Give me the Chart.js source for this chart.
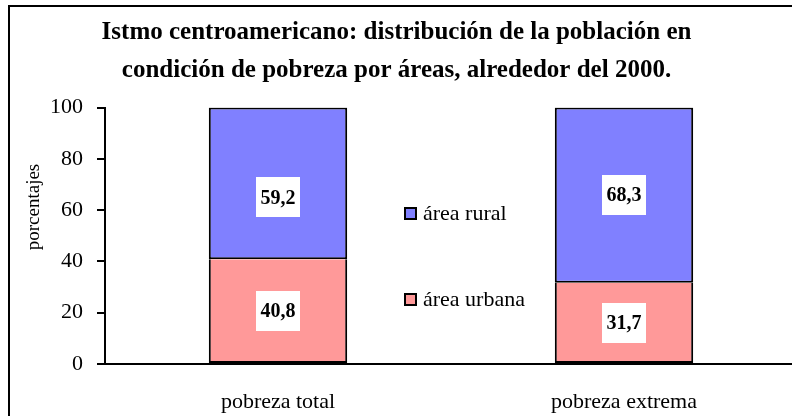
<!DOCTYPE html>
<html><head><meta charset="utf-8">
<script src="https://cdn.jsdelivr.net/npm/chart.js@4/dist/chart.umd.min.js"></script>
<style>
html,body{margin:0;padding:0;background:#fff;overflow:hidden;width:792px;height:416px}
#wrap{position:absolute;left:-4px;top:0;width:804px;height:430px}
</style></head>
<body><div id="wrap"><canvas id="c" width="804" height="430"></canvas></div>
<script>
const categories = ['pobreza total', 'pobreza extrema'];
const urbana = [40.8, 31.7];
const rural = [59.2, 68.3];
const seriesNames = ['área urbana', 'área rural'];
const yTicks = [0, 20, 40, 60, 80, 100];
const titleLines = ['Istmo centroamericano: distribución de la población en', 'condición de pobreza por áreas, alrededor del 2000.'];
const yTitle = 'porcentajes';

const SERIF = "'Liberation Serif', 'Times New Roman', serif";
const fmt = v => v.toFixed(1).replace('.', ',');

const framePlugin = {
  id: 'frame',
  beforeDraw(chart, args, opts) {
    const ctx = chart.ctx;
    ctx.save();
    ctx.fillStyle = '#fff';
    ctx.fillRect(0, 0, chart.width, chart.height);
    ctx.strokeStyle = '#000';
    ctx.lineWidth = 2;
    ctx.beginPath();
    ctx.moveTo(opts.x, chart.height);
    ctx.lineTo(opts.x, opts.y);
    ctx.lineTo(chart.width, opts.y);
    ctx.stroke();
    ctx.restore();
  }
};

const axisTitle = {
  id: 'axisTitle',
  afterDraw(chart, args, opts) {
    const ctx = chart.ctx;
    ctx.save();
    ctx.translate(opts.x, opts.y);
    ctx.rotate(-Math.PI / 2);
    ctx.font = '19px ' + SERIF;
    ctx.fillStyle = '#000';
    ctx.textAlign = 'center';
    ctx.textBaseline = 'middle';
    ctx.fillText(opts.text, 0, 0);
    ctx.restore();
  }
};

const valueLabels = {
  id: 'valueLabels',
  afterDatasetsDraw(chart, args, opts) {
    const ctx = chart.ctx;
    ctx.save();
    ctx.font = 'bold 20px ' + SERIF;
    ctx.textAlign = 'center';
    ctx.textBaseline = 'middle';
    chart.data.datasets.forEach((ds, di) => {
      const meta = chart.getDatasetMeta(di);
      meta.data.forEach((bar, i) => {
        const shift = (opts.shift && opts.shift[di + '-' + i]) || 0;
        const cx = bar.x;
        const cy = (bar.y + bar.base) / 2 + shift;
        ctx.fillStyle = '#fff';
        ctx.fillRect(Math.round(cx - 22), Math.round(cy - 20), 44, 40);
        ctx.fillStyle = '#000';
        ctx.fillText(fmt(ds.data[i]), cx, cy + 1);
      });
    });
    ctx.restore();
  }
};

const innerLegend = {
  id: 'innerLegend',
  afterDraw(chart, args, opts) {
    const ctx = chart.ctx;
    ctx.save();
    ctx.font = '22px ' + SERIF;
    ctx.textAlign = 'left';
    ctx.textBaseline = 'middle';
    const items = chart.data.datasets.map((d, i) => i).reverse();
    items.forEach((di, k) => {
      const ds = chart.data.datasets[di];
      const cy = opts.y[k];
      ctx.fillStyle = ds.backgroundColor;
      ctx.fillRect(opts.x, cy - 6, 11, 11);
      ctx.strokeStyle = '#000';
      ctx.lineWidth = 2;
      ctx.strokeRect(opts.x, cy - 6, 11, 11);
      ctx.fillStyle = '#000';
      ctx.fillText(ds.label, opts.x + 18, cy);
    });
    ctx.restore();
  }
};

new Chart(document.getElementById('c'), {
  type: 'bar',
  data: {
    labels: categories,
    datasets: [
      { label: seriesNames[0], data: urbana, backgroundColor: '#FF9999', borderColor: '#000', borderWidth: 2, borderSkipped: 'top' },
      { label: seriesNames[1], data: rural, backgroundColor: '#8080FF', borderColor: '#000', borderWidth: 2, borderSkipped: false }
    ]
  },
  options: {
    responsive: false,
    animation: false,
    devicePixelRatio: 1,
    layout: { padding: { left: 0, top: 0, right: 3, bottom: 10 } },
    datasets: { bar: { categoryPercentage: 1, barPercentage: 0.4 } },
    plugins: {
      legend: { display: false },
      tooltip: { enabled: false },
      title: {
        display: true,
        text: titleLines,
        color: '#000',
        font: { family: SERIF, size: 25, weight: 'bold', lineHeight: 1.5 },
        padding: { top: 14, bottom: 18.5 }
      },
      frame: { x: 13, y: 6 },
      axisTitle: { text: yTitle, x: 38, y: 207 },
      valueLabels: { shift: { '1-0': 14 } },
      innerLegend: { x: 409, y: [214, 300] }
    },
    scales: {
      x: {
        stacked: true,
        grid: { display: false, drawTicks: false },
        border: { display: true, color: '#000', width: 2 },
        ticks: { color: '#000', font: { family: SERIF, size: 22 }, padding: 25, maxRotation: 0 },
        afterFit(s) { s.height = 56; }
      },
      y: {
        stacked: true,
        min: 0, max: 100,
        afterBuildTicks(s) { s.ticks = yTicks.map(v => ({ value: v })); },
        grid: { drawOnChartArea: false, drawTicks: true, tickLength: 8, color: '#000', lineWidth: 2 },
        border: { display: true, color: '#000', width: 2 },
        ticks: { color: '#000', font: { family: SERIF, size: 22 }, padding: 14 },
        title: { display: false },
        afterFit(s) { s.width = 109; }
      }
    }
  },
  plugins: [framePlugin, valueLabels, innerLegend, axisTitle]
});
</script>
</body></html>
